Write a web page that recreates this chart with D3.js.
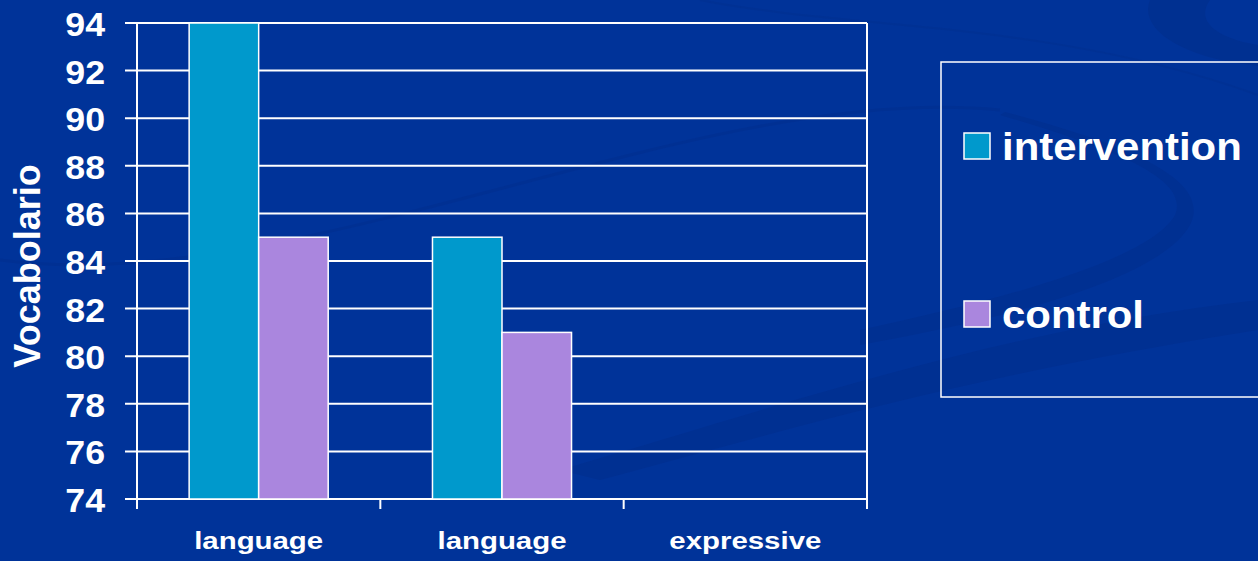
<!DOCTYPE html>
<html>
<head>
<meta charset="utf-8">
<script src="https://cdn.jsdelivr.net/npm/d3@7"></script>
<style>
  html, body { margin: 0; padding: 0; background: #003399; }
  svg { display: block; }
  text { font-family: "Liberation Sans", Arial, sans-serif; font-weight: bold; fill: #ffffff; }
</style>
</head>
<body>
<svg id="chart" width="1258" height="561"></svg>
<script>
// ---- data ----
const categories = ["language", "language", "expressive"];
const seriesNames = ["intervention", "control"];
const intervention = [94, 85, null];
const control = [85, 81, null];
const yTicks = [74, 76, 78, 80, 82, 84, 86, 88, 90, 92, 94];
const yTitle = "Vocabolario";
const colors = ["#0099cc", "#aa86de"];

const seriesValues = [intervention, control];

(function () {
const W = 1258, H = 561;
const svg = d3.select("#chart");

// ---- background decoration ----
const bg = svg.append("g");
bg.append("rect").attr("width", W).attr("height", H).attr("fill", "#003399");
const deco = "#002f8f";
bg.append("path")
  .attr("d", "M1150,0 C1140,25 1170,50 1230,62 L1258,66 L1258,45 C1215,38 1195,20 1210,0 Z")
  .attr("fill", deco).attr("opacity", 0.8);
bg.append("path")
  .attr("d", "M560,470 C800,400 1000,330 1258,300 L1258,330 C1000,370 820,420 600,480 Z")
  .attr("fill", deco).attr("opacity", 0.7);
bg.append("path")
  .attr("d", "M860,330 C1000,300 1150,260 1175,215 C1190,180 1120,150 1000,115 L1005,112 C1150,150 1210,185 1190,225 C1160,280 1000,320 860,345 Z")
  .attr("fill", deco).attr("opacity", 0.7);
bg.append("path")
  .attr("d", "M0,260 C300,300 700,80 1000,110")
  .attr("fill", "none").attr("stroke", deco).attr("stroke-width", 3).attr("opacity", 0.6);
bg.append("path")
  .attr("d", "M700,0 C850,30 1050,20 1258,95")
  .attr("fill", "none").attr("stroke", deco).attr("stroke-width", 2).attr("opacity", 0.5);

// ---- scales ----
const pLeft = 137, pRight = 867, pTop = 23, pBottom = 499;
const x0 = d3.scaleBand().domain(d3.range(categories.length)).range([pLeft, pRight]).paddingInner(0).paddingOuter(0);
const x1 = d3.scaleBand().domain(d3.range(seriesNames.length)).range([0, x0.bandwidth()]).paddingInner(0).paddingOuter(0.75);
const y = d3.scaleLinear().domain([74, 94]).range([pBottom, pTop]);

const gridW = 2;

// ---- gridlines ----
svg.append("g").selectAll("line").data(yTicks).join("line")
  .attr("x1", pLeft - 12).attr("x2", pRight)
  .attr("y1", d => y(d)).attr("y2", d => y(d))
  .attr("stroke", "#fff").attr("stroke-width", gridW);

// ---- y tick labels ----
svg.append("g").selectAll("text").data(yTicks).join("text")
  .attr("transform", d => `translate(105,${y(d) + 13}) scale(1.05,1)`)
  .attr("text-anchor", "end")
  .style("font-size", "34px")
  .text(d => d);

// ---- bars ----
const bars = [];
categories.forEach((c, i) => {
  seriesValues.forEach((vals, s) => {
    if (vals[i] != null) bars.push({ i, s, v: vals[i] });
  });
});
svg.append("g").selectAll("rect").data(bars).join("rect")
  .attr("x", d => x0(d.i) + x1(d.s))
  .attr("width", x1.bandwidth())
  .attr("y", d => y(d.v))
  .attr("height", d => y(74) - y(d.v))
  .attr("fill", d => colors[d.s])
  .attr("stroke", "#fff").attr("stroke-width", 1.5);

// ---- axis lines & frame ----
svg.append("line").attr("x1", pLeft).attr("x2", pLeft).attr("y1", pTop).attr("y2", pBottom + 10)
  .attr("stroke", "#fff").attr("stroke-width", gridW);
svg.append("line").attr("x1", pRight).attr("x2", pRight).attr("y1", pTop).attr("y2", pBottom + 10)
  .attr("stroke", "#fff").attr("stroke-width", gridW);
const bounds = d3.range(categories.length + 1).map(i => i < categories.length ? x0(i) : x0.range()[1]);
svg.append("g").selectAll("line").data(bounds).join("line")
  .attr("x1", d => d).attr("x2", d => d)
  .attr("y1", pBottom).attr("y2", pBottom + 10)
  .attr("stroke", "#fff").attr("stroke-width", gridW);

// ---- x labels ----
svg.append("g").selectAll("text").data(categories).join("text")
  .attr("transform", (d, i) => `translate(${x0(i) + x0.bandwidth() / 2},549) scale(1.2,1)`)
  .attr("text-anchor", "middle")
  .style("font-size", "24.5px")
  .text(d => d);

// ---- y title ----
svg.append("text")
  .attr("transform", "translate(40,266) rotate(-90)")
  .attr("text-anchor", "middle")
  .style("font-size", "36px")
  .text(yTitle);

// ---- legend ----
svg.append("rect").attr("x", 941).attr("y", 62).attr("width", 340).attr("height", 335)
  .attr("fill", "none").attr("stroke", "#fff").attr("stroke-width", 1.5);
const legendY = [133, 301];
const lg = svg.append("g").selectAll("g").data(seriesNames).join("g")
  .attr("transform", (d, i) => `translate(964,${legendY[i]})`);
lg.append("rect").attr("width", 26).attr("height", 26)
  .attr("fill", (d, i) => colors[i]).attr("stroke", "#fff").attr("stroke-width", 1.5);
lg.append("text").attr("transform", "translate(38,27) scale(1.075,1)")
  .style("font-size", "39px")
  .text(d => d);
})();
</script>
</body>
</html>
